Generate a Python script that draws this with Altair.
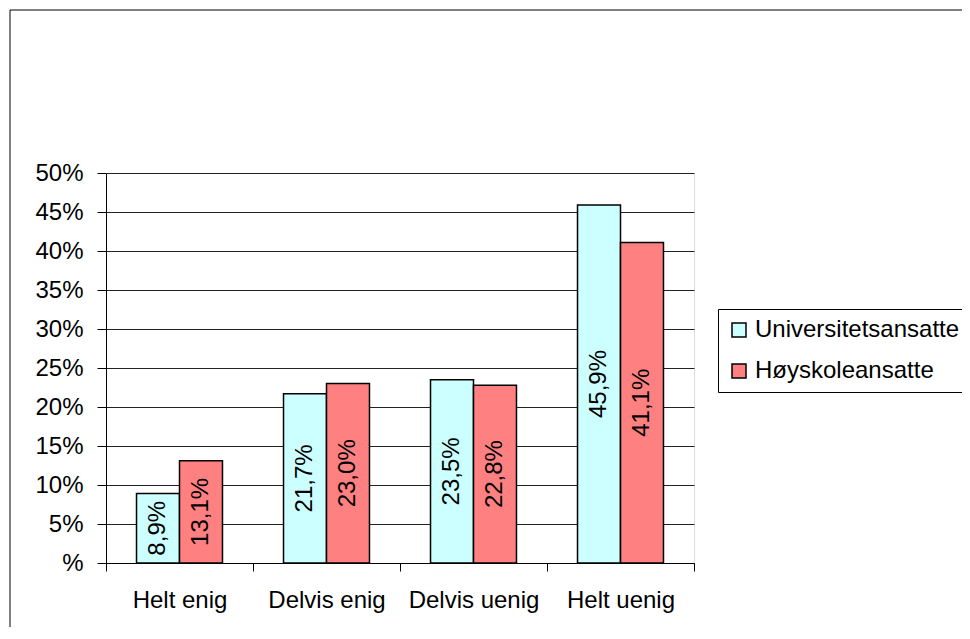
import altair as alt
import pandas as pd

categories = ["Helt enig", "Delvis enig", "Delvis uenig", "Helt uenig"]
series = ["Universitetsansatte", "Høyskoleansatte"]
universitet = [0.089, 0.217, 0.235, 0.459]
hoyskole = [0.131, 0.230, 0.228, 0.411]
y_ticks = [0, 0.05, 0.1, 0.15, 0.2, 0.25, 0.3, 0.35, 0.4, 0.45, 0.5]
colors = ["#CCFFFF", "#FF8080"]

rows = []
for c, u, h in zip(categories, universitet, hoyskole):
    rows.append({"kategori": c, "gruppe": series[0], "verdi": u})
    rows.append({"kategori": c, "gruppe": series[1], "verdi": h})
df = pd.DataFrame(rows)

FONT = "Liberation Sans"

x_axis = alt.Axis(title=None, labelAngle=0, tickBand="extent", grid=False,
                  domainColor="#000", tickColor="#000", tickSize=8,
                  labelFontSize=24, labelColor="#000", labelPadding=17,
                  labelLimit=300, labelFont=FONT)
y_axis = alt.Axis(title=None, values=y_ticks, tickCount=11, labelOverlap=False,
                  labelExpr="datum.value === 0 ? '%' : format(datum.value, '.0%')",
                  grid=True, gridColor="#222", gridWidth=1,
                  domainColor="#000", tickColor="#000", tickSize=9,
                  labelFontSize=24, labelColor="#000", labelPadding=14,
                  labelFont=FONT)
x_scale = alt.Scale(paddingInner=0, paddingOuter=0)
xoff_scale = alt.Scale(paddingInner=0, paddingOuter=0.71)
y_scale = alt.Scale(domain=[0, 0.5], nice=False)

bars = alt.Chart(df).mark_bar(stroke="#000", strokeWidth=1.5).encode(
    x=alt.X("kategori:N", sort=categories, scale=x_scale, axis=x_axis),
    xOffset=alt.XOffset("gruppe:N", sort=series, scale=xoff_scale),
    y=alt.Y("verdi:Q", scale=y_scale, axis=y_axis),
    color=alt.Color("gruppe:N", sort=series,
                    scale=alt.Scale(domain=series, range=colors),
                    legend=alt.Legend(title=None, orient="none", legendX=612, legendY=136,
                                      fillColor="#fff", strokeColor="#000", padding=9,
                                      rowPadding=17, symbolType="square", symbolSize=196,
                                      symbolStrokeColor="#000", symbolStrokeWidth=1.5,
                                      symbolOpacity=1,
                                      labelFontSize=24, labelFont=FONT, labelColor="#000",
                                      labelOffset=4, labelLimit=400)),
)

labels = alt.Chart(df).transform_calculate(
    midt="datum.verdi / 2",
    tekst="replace(format(datum.verdi, '.1%'), '.', ',')",
).mark_text(angle=270, align="center", baseline="middle", fontSize=24,
            font=FONT, color="#000").encode(
    x=alt.X("kategori:N", sort=categories, scale=x_scale, axis=x_axis),
    xOffset=alt.XOffset("gruppe:N", sort=series, scale=xoff_scale),
    y=alt.Y("midt:Q", scale=y_scale, axis=y_axis),
    text="tekst:N",
)

frame = alt.Chart(alt.Data(values=[{"a": 1}])).mark_rect(
    fill=None, stroke="#000", strokeWidth=1
).encode(
    x=alt.value(-96), x2=alt.value(3000), y=alt.value(-163), y2=alt.value(3000)
)

chart = alt.layer(frame, bars, labels).properties(
    width=588, height=390,
    padding={"left": 98, "top": 165, "right": 268, "bottom": 64},
    autosize=alt.AutoSizeParams(type="none"),
).configure_view(stroke="#c0c0c0", strokeWidth=2).configure(background="#ffffff")

chart.save("out.html", embed_options={"renderer": "svg", "actions": False})
